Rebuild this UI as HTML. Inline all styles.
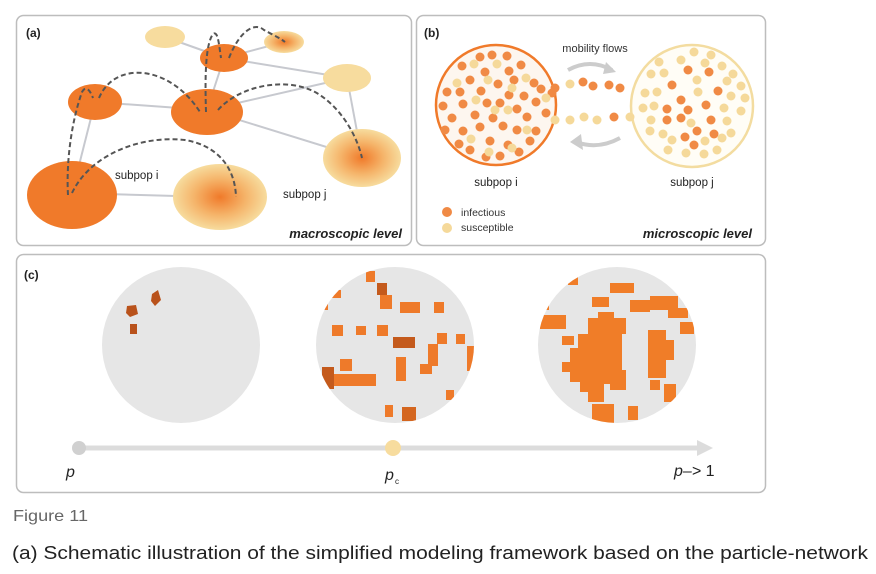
<!DOCTYPE html>
<html><head><meta charset="utf-8"><style>
html,body{margin:0;padding:0;background:#fff;width:876px;height:574px;overflow:hidden}
svg{display:block}
text{font-family:"Liberation Sans",sans-serif}
</style></head><body>
<svg width="876" height="574" viewBox="0 0 876 574" xmlns="http://www.w3.org/2000/svg">
<defs>
<radialGradient id="g1"><stop offset="0" stop-color="#f07a2a"/><stop offset="0.55" stop-color="#f5b46a"/><stop offset="1" stop-color="#f7dc9e"/></radialGradient>
<clipPath id="c2"><ellipse cx="395" cy="345" rx="79" ry="78"/></clipPath>
<clipPath id="c3"><ellipse cx="617" cy="345" rx="79" ry="78"/></clipPath>
</defs>
<!-- panel frames -->
<rect x="16.5" y="15.5" width="395" height="230" rx="7" fill="#fff" stroke="#bdbdbd" stroke-width="1.5"/>
<rect x="416.5" y="15.5" width="349" height="230" rx="7" fill="#fff" stroke="#bdbdbd" stroke-width="1.5"/>
<rect x="16.5" y="254.5" width="749" height="238" rx="7" fill="#fff" stroke="#bdbdbd" stroke-width="1.5"/>
<text x="26" y="37" font-size="12" font-weight="bold" fill="#222">(a)</text>
<text x="424" y="37" font-size="12" font-weight="bold" fill="#222">(b)</text>
<text x="24" y="279" font-size="12" font-weight="bold" fill="#222">(c)</text>

<!-- (a) edges -->
<g stroke="#c7c9cf" stroke-width="2">
<line x1="165" y1="37" x2="224" y2="58"/><line x1="224" y1="58" x2="284" y2="42"/>
<line x1="224" y1="58" x2="347" y2="78"/><line x1="224" y1="58" x2="207" y2="110"/>
<line x1="95" y1="102" x2="207" y2="110"/><line x1="207" y1="110" x2="347" y2="78"/>
<line x1="207" y1="110" x2="362" y2="158"/><line x1="347" y1="78" x2="362" y2="158"/>
<line x1="95" y1="102" x2="72" y2="193"/><line x1="72" y1="193" x2="212" y2="197"/>
</g>
<!-- (a) nodes -->
<ellipse cx="165" cy="37" rx="20" ry="11" fill="#f7dc9e"/>
<ellipse cx="284" cy="42" rx="20" ry="11" fill="url(#g1)"/>
<ellipse cx="224" cy="58" rx="24" ry="14" fill="#f07a2a"/>
<ellipse cx="347" cy="78" rx="24" ry="14" fill="#f7dc9e"/>
<ellipse cx="95" cy="102" rx="27" ry="18" fill="#f07a2a"/>
<ellipse cx="207" cy="112" rx="36" ry="23" fill="#f07a2a"/>
<ellipse cx="362" cy="158" rx="39" ry="29" fill="url(#g1)"/>
<ellipse cx="72" cy="195" rx="45" ry="34" fill="#f07a2a"/>
<ellipse cx="220" cy="197" rx="47" ry="33" fill="url(#g1)"/>
<!-- dashed arcs -->
<g fill="none" stroke="#555" stroke-width="2" stroke-dasharray="5,3">
<path d="M68 195 C66 160 72 120 82 92 C86 85 90 90 93 98"/>
<path d="M99 98 C115 60 170 65 200 112"/>
<path d="M206 112 C205 80 205 45 213 34 C218 30 219 45 221 58"/>
<path d="M229 58 C240 30 255 22 264 30 C275 36 280 38 285 42"/>
<path d="M218 110 C240 85 290 75 320 95 C345 112 358 140 362 158"/>
<path d="M72 193 C90 155 140 135 185 140 C215 145 235 165 236 197"/>
</g>
<text x="115" y="179" font-size="11.5" fill="#222">subpop i</text>
<text x="283" y="198" font-size="11.5" fill="#222">subpop j</text>
<text x="402" y="238" font-size="13" font-weight="bold" font-style="italic" fill="#222" text-anchor="end">macroscopic level</text>

<!-- (b) -->
<circle cx="496" cy="105" r="60" fill="#fdf6ef" stroke="#f07a2a" stroke-width="2.5"/>
<circle cx="692" cy="106" r="61" fill="#fffdf6" stroke="#f3dca0" stroke-width="2.5"/>
<g fill="#f08a45">
<circle cx="480" cy="57" r="4.5"/><circle cx="492" cy="55" r="4.5"/><circle cx="507" cy="56" r="4.5"/><circle cx="462" cy="66" r="4.5"/><circle cx="485" cy="72" r="4.5"/><circle cx="509" cy="71" r="4.5"/><circle cx="521" cy="65" r="4.5"/><circle cx="470" cy="80" r="4.5"/><circle cx="498" cy="84" r="4.5"/><circle cx="514" cy="80" r="4.5"/><circle cx="534" cy="83" r="4.5"/><circle cx="447" cy="92" r="4.5"/><circle cx="460" cy="92" r="4.5"/><circle cx="481" cy="91" r="4.5"/><circle cx="509" cy="95" r="4.5"/><circle cx="524" cy="96" r="4.5"/><circle cx="541" cy="89" r="4.5"/><circle cx="552" cy="93" r="4.5"/><circle cx="443" cy="106" r="4.5"/><circle cx="463" cy="104" r="4.5"/><circle cx="487" cy="103" r="4.5"/><circle cx="500" cy="103" r="4.5"/><circle cx="517" cy="109" r="4.5"/><circle cx="536" cy="102" r="4.5"/><circle cx="452" cy="118" r="4.5"/><circle cx="475" cy="115" r="4.5"/><circle cx="493" cy="118" r="4.5"/><circle cx="527" cy="117" r="4.5"/><circle cx="546" cy="113" r="4.5"/><circle cx="445" cy="130" r="4.5"/><circle cx="463" cy="131" r="4.5"/><circle cx="480" cy="127" r="4.5"/><circle cx="503" cy="126" r="4.5"/><circle cx="517" cy="130" r="4.5"/><circle cx="536" cy="131" r="4.5"/><circle cx="459" cy="144" r="4.5"/><circle cx="490" cy="141" r="4.5"/><circle cx="508" cy="145" r="4.5"/><circle cx="530" cy="141" r="4.5"/><circle cx="470" cy="150" r="4.5"/><circle cx="486" cy="157" r="4.5"/><circle cx="500" cy="156" r="4.5"/><circle cx="519" cy="152" r="4.5"/><circle cx="555" cy="88" r="4.5"/>
<circle cx="583" cy="82" r="4.5"/><circle cx="593" cy="86" r="4.5"/><circle cx="609" cy="85" r="4.5"/><circle cx="620" cy="88" r="4.5"/><circle cx="614" cy="117" r="4.5"/>
<circle cx="688" cy="70" r="4.5"/><circle cx="709" cy="72" r="4.5"/><circle cx="672" cy="85" r="4.5"/><circle cx="718" cy="91" r="4.5"/><circle cx="681" cy="100" r="4.5"/><circle cx="688" cy="110" r="4.5"/><circle cx="667" cy="109" r="4.5"/><circle cx="706" cy="105" r="4.5"/><circle cx="711" cy="120" r="4.5"/><circle cx="681" cy="118" r="4.5"/><circle cx="667" cy="120" r="4.5"/><circle cx="697" cy="131" r="4.5"/><circle cx="685" cy="137" r="4.5"/><circle cx="714" cy="134" r="4.5"/><circle cx="694" cy="145" r="4.5"/>
</g>
<g fill="#f5d99a">
<circle cx="474" cy="64" r="4.5"/><circle cx="497" cy="64" r="4.5"/><circle cx="476" cy="100" r="4.5"/><circle cx="457" cy="83" r="4.5"/><circle cx="488" cy="80" r="4.5"/><circle cx="526" cy="78" r="4.5"/><circle cx="495" cy="110" r="4.5"/><circle cx="471" cy="139" r="4.5"/><circle cx="508" cy="110" r="4.5"/><circle cx="527" cy="130" r="4.5"/><circle cx="512" cy="88" r="4.5"/><circle cx="546" cy="98" r="4.5"/><circle cx="555" cy="120" r="4.5"/><circle cx="489" cy="152" r="4.5"/><circle cx="512" cy="148" r="4.5"/>
<circle cx="570" cy="84" r="4.5"/><circle cx="570" cy="120" r="4.5"/><circle cx="584" cy="117" r="4.5"/><circle cx="597" cy="120" r="4.5"/><circle cx="630" cy="117" r="4.5"/>
<circle cx="694" cy="52" r="4.5"/><circle cx="711" cy="55" r="4.5"/><circle cx="659" cy="62" r="4.5"/><circle cx="681" cy="60" r="4.5"/><circle cx="705" cy="63" r="4.5"/><circle cx="722" cy="66" r="4.5"/><circle cx="733" cy="74" r="4.5"/><circle cx="651" cy="74" r="4.5"/><circle cx="664" cy="73" r="4.5"/><circle cx="697" cy="80" r="4.5"/><circle cx="727" cy="81" r="4.5"/><circle cx="741" cy="86" r="4.5"/><circle cx="645" cy="93" r="4.5"/><circle cx="657" cy="92" r="4.5"/><circle cx="698" cy="92" r="4.5"/><circle cx="731" cy="96" r="4.5"/><circle cx="745" cy="98" r="4.5"/><circle cx="643" cy="108" r="4.5"/><circle cx="654" cy="106" r="4.5"/><circle cx="724" cy="108" r="4.5"/><circle cx="741" cy="111" r="4.5"/><circle cx="651" cy="120" r="4.5"/><circle cx="691" cy="123" r="4.5"/><circle cx="727" cy="121" r="4.5"/><circle cx="650" cy="131" r="4.5"/><circle cx="663" cy="134" r="4.5"/><circle cx="672" cy="140" r="4.5"/><circle cx="705" cy="141" r="4.5"/><circle cx="722" cy="138" r="4.5"/><circle cx="731" cy="133" r="4.5"/><circle cx="668" cy="150" r="4.5"/><circle cx="686" cy="153" r="4.5"/><circle cx="704" cy="154" r="4.5"/><circle cx="717" cy="150" r="4.5"/>
</g>
<path d="M568 70 Q590 58 612 70" fill="none" stroke="#ccc" stroke-width="4"/>
<path d="M606 62 L616 72 L603 74 Z" fill="#ccc"/>
<path d="M620 138 Q598 150 576 142" fill="none" stroke="#ccc" stroke-width="4"/>
<path d="M581 134 L570 142 L583 150 Z" fill="#ccc"/>
<text x="595" y="52" font-size="11" fill="#333" text-anchor="middle">mobility flows</text>
<text x="496" y="186" font-size="11.5" fill="#222" text-anchor="middle">subpop i</text>
<text x="692" y="186" font-size="11.5" fill="#222" text-anchor="middle">subpop j</text>
<circle cx="447" cy="212" r="5" fill="#f08a45"/><circle cx="447" cy="228" r="5" fill="#f5d99a"/>
<text x="461" y="216" font-size="10.5" fill="#333">infectious</text>
<text x="461" y="231" font-size="10.5" fill="#333">susceptible</text>
<text x="752" y="238" font-size="13" font-weight="bold" font-style="italic" fill="#222" text-anchor="end">microscopic level</text>

<!-- (c) -->
<ellipse cx="181" cy="345" rx="79" ry="78" fill="#e6e6e6"/>
<g fill="#b9521b">
<path d="M127 306 l9 -1 l2 9 l-8 3 l-4 -4z"/><path d="M152 294 l6 -4 l3 10 l-6 6 l-4 -5z"/><rect x="130" y="324" width="7" height="10"/>
</g>
<ellipse cx="395" cy="345" rx="79" ry="78" fill="#e6e6e6"/>
<g clip-path="url(#c2)" fill="#ee7a2a">
<rect x="366" y="271" width="9" height="11"/><rect x="377" y="283" width="10" height="12" fill="#c45a1c"/><rect x="380" y="295" width="12" height="14"/><rect x="400" y="302" width="20" height="11"/><rect x="434" y="302" width="10" height="11"/><rect x="331" y="290" width="10" height="8"/><rect x="320" y="300" width="8" height="10"/>
<rect x="332" y="325" width="11" height="11"/><rect x="356" y="326" width="10" height="9"/><rect x="377" y="325" width="11" height="11"/><rect x="393" y="337" width="22" height="11" fill="#c45a1c"/><rect x="437" y="333" width="10" height="11"/><rect x="456" y="334" width="9" height="10"/>
<rect x="322" y="367" width="12" height="22" fill="#c45a1c"/><rect x="340" y="359" width="12" height="12"/><rect x="334" y="374" width="42" height="12"/><rect x="396" y="357" width="10" height="24"/><rect x="420" y="364" width="12" height="10"/><rect x="428" y="344" width="10" height="22"/><rect x="467" y="346" width="10" height="25"/><rect x="446" y="390" width="8" height="10"/><rect x="385" y="405" width="8" height="12"/><rect x="402" y="407" width="14" height="14" fill="#d4661f"/>
</g>
<ellipse cx="617" cy="345" rx="79" ry="78" fill="#e6e6e6"/>
<g clip-path="url(#c3)" fill="#f07d28">
<rect x="568" y="276" width="10" height="9"/><rect x="610" y="283" width="24" height="10"/><rect x="592" y="297" width="17" height="10"/><rect x="630" y="300" width="20" height="12"/><rect x="650" y="296" width="28" height="14"/><rect x="668" y="308" width="20" height="10"/><rect x="680" y="322" width="14" height="12"/><rect x="540" y="315" width="26" height="14"/><rect x="541" y="300" width="8" height="10"/><rect x="562" y="336" width="12" height="9"/>
<path d="M588 318 h10 v-6 h16 v6 h12 v16 h-4 v36 h4 v20 h-16 v-6 h-6 v18 h-16 v-10 h-8 v-10 h-10 v-10 h-8 v-10 h8 v-14 h8 v-14 h10z"/>
<rect x="648" y="330" width="18" height="48"/><rect x="660" y="340" width="14" height="20"/><rect x="664" y="384" width="12" height="18"/><rect x="650" y="380" width="10" height="10"/>
<rect x="592" y="404" width="22" height="22"/><rect x="628" y="406" width="10" height="14"/><rect x="540" y="385" width="8" height="8"/>
</g>
<line x1="80" y1="448" x2="700" y2="448" stroke="#dcdcdc" stroke-width="5"/>
<path d="M697 440 L713 448 L697 456 Z" fill="#dcdcdc"/>
<circle cx="79" cy="448" r="7" fill="#d0d0d0"/>
<circle cx="393" cy="448" r="8" fill="#f7dc9e"/>
<text x="66" y="477" font-size="16" font-style="italic" fill="#222">p</text>
<text x="385" y="480" font-size="16" font-style="italic" fill="#222">p</text>
<text x="395" y="484" font-size="8" fill="#222">c</text>
<text x="674" y="476" font-size="16" font-style="italic" fill="#222">p–&gt;<tspan font-style="normal"> 1</tspan></text>

<text x="13" y="521" font-size="16" fill="#666" textLength="75" lengthAdjust="spacingAndGlyphs">Figure 11</text>
<text x="12" y="559" font-size="18" fill="#222" textLength="856" lengthAdjust="spacingAndGlyphs">(a) Schematic illustration of the simplified modeling framework based on the particle-network</text>
</svg>
</body></html>
